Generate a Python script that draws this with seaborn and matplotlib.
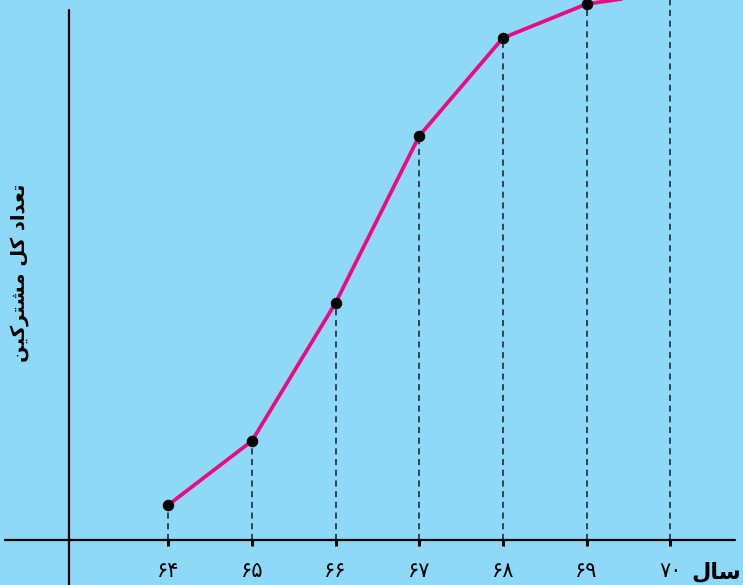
import matplotlib
matplotlib.use('Agg')
import matplotlib.pyplot as plt
import seaborn as sns
import pandas as pd

# years and cumulative subscribers (arbitrary units)
years = [64, 65, 66, 67, 68, 69, 70]
subscribers = [35, 99, 237, 404, 502, 536, 548]
year_labels = ['۶۴', '۶۵', '۶۶', '۶۷', '۶۸', '۶۹', '۷۰']
# pre-shaped (presentation forms, visual order) since matplotlib does no Arabic shaping
xlabel = 'ﻝﺎﺳ'            # سال
ylabel = 'ﻦﻴﻛﺮﺘﺸﻣ ﻞﻛ ﺩﺍﺪﻌﺗ'  # تعداد کل مشترکین

bg = '#8ED9F7'
sns.set_style('white')
plt.rcParams['font.family'] = ['DejaVu Sans']
plt.rcParams['text.color'] = 'black'
plt.rcParams['xtick.color'] = 'black'

df = pd.DataFrame({'year': years, 'n': subscribers})

fig = plt.figure(figsize=(7.43, 5.85), dpi=100, facecolor=bg)
ax = fig.add_axes([0, 0, 1, 1])
ax.set_facecolor(bg)

# dashed drop lines
ax.vlines(df['year'], 0, df['n'], colors='#1a1a2a', linestyles=(0, (4, 3)), linewidth=1.1, zorder=1)

sns.lineplot(data=df, x='year', y='n', ax=ax, color='#EC0A83', linewidth=2.7,
             marker='o', markersize=7.5, markerfacecolor='black', markeredgecolor='black', zorder=3)

ax.set_xlim(61.99, 70.87)
ax.set_ylim(-45, 540)
for s in ax.spines.values():
    s.set_visible(False)

# axes lines
ax.axhline(0, xmin=5 / 743, xmax=735 / 743, color='black', linewidth=1.6, zorder=2)
ax.axvline(62.81, ymin=0, ymax=1 - 10 / 585, color='black', linewidth=1.6, zorder=2)

ax.set_xticks(years)
ax.set_xticklabels(year_labels, fontsize=15, color='black')
ax.tick_params(axis='x', direction='in', length=0, pad=-17)
ax.vlines(years, -6, 0, colors='black', linewidth=2.2, zorder=2)
ax.set_yticks([])
ax.set_xlabel('')
ax.set_ylabel('')

ax.text(741, 7, xlabel, transform=None, fontsize=16, fontweight='bold', ha='right', va='baseline',
        color='black')
fig.text(20 / 743, 1 - 273 / 585, ylabel, rotation=90, fontsize=14, fontweight='bold',
         ha='center', va='center', color='black')

fig.savefig('out.png', dpi=100, facecolor=bg)
